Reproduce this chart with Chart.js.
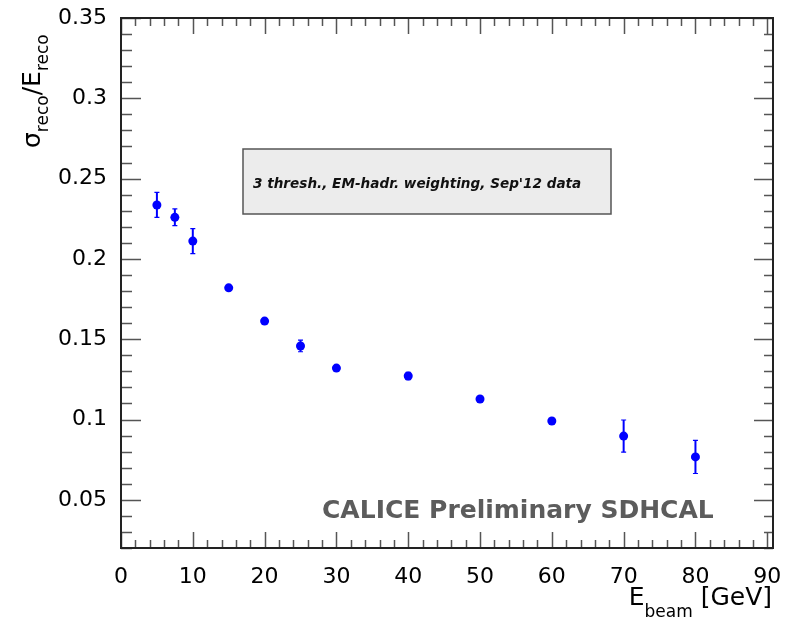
<!DOCTYPE html>
<html>
<head>
<meta charset="utf-8">
<script src="https://cdn.jsdelivr.net/npm/chart.js@4.4.1/dist/chart.umd.min.js"></script>
<style>
html,body{margin:0;padding:0;background:#fff;}
#wrap{width:786px;height:620px;}
</style>
</head>
<body>
<div id="wrap"><canvas id="c" width="786" height="620"></canvas></div>
<script>
// ---- data ----
const beamEnergy = [5, 7.5, 10, 15, 20, 25, 30, 40, 50, 60, 70, 80];
const resolution = [0.2336, 0.2259, 0.2111, 0.1820, 0.1613, 0.1458, 0.1320, 0.1271, 0.1128, 0.0991, 0.0897, 0.0767];
const resolutionErr = [0.0078, 0.0052, 0.0078, 0.0013, 0.0005, 0.0036, 0.0010, 0.0023, 0.0008, 0.0008, 0.0100, 0.0103];
const xTickValues = [0, 10, 20, 30, 40, 50, 60, 70, 80, 90];
const yTickValues = [0.05, 0.1, 0.15, 0.2, 0.25, 0.3, 0.35];
const paveText = "3 thresh., EM-hadr. weighting, Sep'12 data";
const watermark = "CALICE Preliminary SDHCAL";

const FONT = "'DejaVu Sans', 'Liberation Sans', sans-serif";
Chart.defaults.font.family = FONT;

const points = beamEnergy.map((e, i) => ({x: e, y: resolution[i], err: resolutionErr[i]}));

const background = {
  id: 'background',
  beforeDraw(chart) {
    const ctx = chart.ctx;
    ctx.save();
    ctx.fillStyle = '#fff';
    ctx.fillRect(0, 0, chart.width, chart.height);
    ctx.restore();
  }
};

const errorBars = {
  id: 'errorBars',
  beforeDatasetsDraw(chart) {
    const ctx = chart.ctx, xs = chart.scales.x, ys = chart.scales.y;
    ctx.save();
    ctx.strokeStyle = '#0000ff';
    ctx.lineWidth = 2;
    chart.data.datasets[0].data.forEach(p => {
      const px = xs.getPixelForValue(p.x);
      const y1 = ys.getPixelForValue(p.y - p.err);
      const y2 = ys.getPixelForValue(p.y + p.err);
      ctx.beginPath();
      ctx.moveTo(px, y1); ctx.lineTo(px, y2);
      ctx.stroke();
      ctx.lineWidth = 1.2;
      ctx.beginPath();
      ctx.moveTo(px - 2.5, y1); ctx.lineTo(px + 2.5, y1);
      ctx.moveTo(px - 2.5, y2); ctx.lineTo(px + 2.5, y2);
      ctx.stroke();
      ctx.lineWidth = 2;
    });
    ctx.restore();
  }
};

const frameAndText = {
  id: 'frameAndText',
  afterDatasetsDraw(chart) {
    const ctx = chart.ctx, xs = chart.scales.x, ys = chart.scales.y;
    const a = chart.chartArea;
    ctx.save();
    // ticks
    ctx.strokeStyle = '#555';
    ctx.lineWidth = 1.5;
    ctx.beginPath();
    for (let v = xs.min; v <= 90 + 1e-9; v += 2) {
      const px = Math.round(xs.getPixelForValue(v)) + 0.5;
      const major = Math.abs(v % 10) < 1e-9;
      const lb = major ? 16 : 8, lt = major ? 16 : 8;
      ctx.moveTo(px, a.bottom); ctx.lineTo(px, a.bottom - lb);
      ctx.moveTo(px, a.top); ctx.lineTo(px, a.top + lt);
    }
    for (let k = 2; k <= 35; k++) {
      const v = k / 100;
      const py = Math.round(ys.getPixelForValue(v)) + 0.5;
      const major = k % 5 === 0;
      const ll = major ? 20 : 11, lr = major ? 19 : 9;
      ctx.moveTo(a.left, py); ctx.lineTo(a.left + ll, py);
      ctx.moveTo(a.right, py); ctx.lineTo(a.right - lr, py);
    }
    ctx.stroke();
    // frame
    ctx.strokeStyle = '#222';
    ctx.lineWidth = 2;
    ctx.strokeRect(a.left, a.top, a.right - a.left, a.bottom - a.top);

    // pave text box
    const bx = a.left + 122, by = a.top + 131, bw = 368, bh = 65;
    ctx.fillStyle = '#ececec';
    ctx.fillRect(bx, by, bw, bh);
    ctx.strokeStyle = '#555';
    ctx.lineWidth = 1.5;
    ctx.strokeRect(bx, by, bw, bh);
    ctx.fillStyle = '#111';
    ctx.font = "italic bold 13.6px " + FONT;
    ctx.textBaseline = 'alphabetic';
    ctx.textAlign = 'left';
    ctx.fillText(paveText, bx + 10, by + 39);

    // watermark
    ctx.fillStyle = '#5c5c5c';
    ctx.font = "bold 25px " + FONT;
    ctx.fillText(watermark, a.left + 201, a.bottom - 30);

    // x title: E_beam [GeV], right aligned at frame right
    const mainF = "25px " + FONT, subF = "17px " + FONT;
    ctx.fillStyle = '#000';
    ctx.font = mainF; const wE = ctx.measureText('E').width;
    const wG = ctx.measureText(' [GeV]').width;
    ctx.font = subF; const wB = ctx.measureText('beam').width;
    let x0 = a.right - 1 - (wE + wB + wG);
    const yb = a.bottom + 57;
    ctx.font = mainF; ctx.fillText('E', x0, yb);
    ctx.font = subF; ctx.fillText('beam', x0 + wE, yb + 12);
    ctx.font = mainF; ctx.fillText(' [GeV]', x0 + wE + wB, yb);

    // y title: sigma_reco / E_reco, rotated
    ctx.save();
    ctx.translate(a.left - 81, a.top + 130);
    ctx.rotate(-Math.PI / 2);
    let cx = 0;
    const parts = [['σ', mainF, 0], ['reco', subF, 8], ['/E', mainF, 0], ['reco', subF, 8]];
    parts.forEach(([t, f, dy]) => {
      ctx.font = f;
      ctx.fillText(t, cx, dy);
      cx += ctx.measureText(t).width;
    });
    ctx.restore();
    ctx.restore();
  }
};

new Chart(document.getElementById('c'), {
  type: 'scatter',
  data: {
    datasets: [{
      data: points,
      backgroundColor: '#0000ff',
      borderColor: '#0000ff',
      pointRadius: 4.5,
      pointHoverRadius: 4.5,
      borderWidth: 0
    }]
  },
  options: {
    responsive: false,
    animation: false,
    devicePixelRatio: 1,
    layout: {padding: {top: 18, right: 13, left: 0, bottom: 0}},
    plugins: {legend: {display: false}, tooltip: {enabled: false}},
    scales: {
      x: {
        type: 'linear', min: 0, max: 90.8,
        grid: {display: false}, border: {display: false},
        afterBuildTicks: s => { s.ticks = xTickValues.map(v => ({value: v})); },
        afterFit: s => { s.height = 72; s.paddingLeft = 0; s.paddingRight = 0; },
        ticks: {autoSkip: false, maxRotation: 0, padding: 8, color: '#000',
                font: {size: 22}, callback: v => String(v)}
      },
      y: {
        type: 'linear', min: 0.02, max: 0.35,
        grid: {display: false}, border: {display: false},
        afterBuildTicks: s => { s.ticks = yTickValues.map(v => ({value: v})); },
        afterFit: s => { s.width = 121; s.paddingTop = 0; s.paddingBottom = 0; },
        ticks: {autoSkip: false, padding: 6, color: '#000',
                font: {size: 22}, callback: v => String(v)}
      }
    }
  },
  plugins: [background, errorBars, frameAndText]
});
</script>
</body>
</html>
